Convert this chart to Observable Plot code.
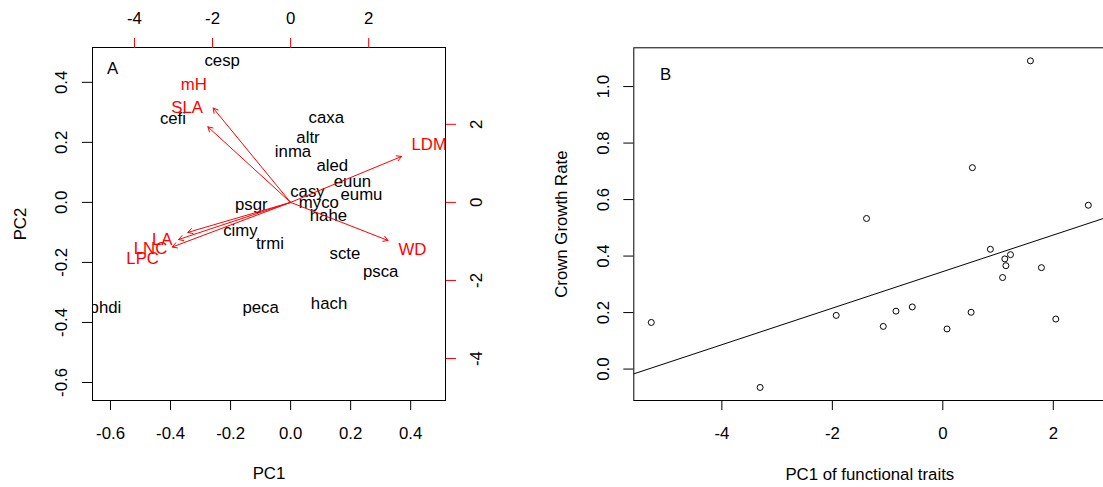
<!DOCTYPE html>
<html><head><meta charset="utf-8">
<script src="https://cdn.jsdelivr.net/npm/d3@7"></script>
<script src="https://cdn.jsdelivr.net/npm/@observablehq/plot@0.6"></script>
<style>
html,body{margin:0;padding:0;background:#fff;overflow:hidden;width:1103px;height:487px;}
#wrap{position:relative;width:1103px;height:487px;overflow:hidden;background:#fff;}
#a{position:absolute;left:0;top:0;width:540px;height:487px;}
#b{position:absolute;left:540px;top:0;width:600px;height:487px;}
</style></head><body><div id="wrap"><div id="a"></div><div id="b"></div></div>
<script>
// ---- Panel A: PCA biplot ----
const species = ["cesp","cefi","caxa","altr","inma","aled","euun","casy","eumu","myco","hahe","psgr","cimy","trmi","scte","psca","hach","peca","phdi"];
const spPC1 = [-0.228,-0.392,0.119,0.058,0.008,0.139,0.206,0.056,0.236,0.094,0.126,-0.131,-0.167,-0.069,0.181,0.300,0.128,-0.100,-0.617];
const spPC2 = [0.472,0.278,0.281,0.217,0.169,0.122,0.070,0.037,0.026,0.000,-0.044,-0.009,-0.094,-0.137,-0.170,-0.231,-0.337,-0.350,-0.350];
const traits = ["mH","SLA","LDM","WD","LA","LNC","LPC"];
const trPC1 = [-2.48,-2.65,3.55,3.12,-3.29,-3.59,-3.79];
const trPC2 = [3.02,2.42,1.47,-1.22,-0.96,-1.19,-1.43];
const biplotLim = [-0.66, 0.516];
const loadScale = 7.69;            // ratio of loading axes to score axes
const ticksA = [-0.6,-0.4,-0.2,0,0.2,0.4];
const loadTicks = [-4,-2,0,2];

// ---- Panel B: crown growth vs PC1 ----
const pc1Traits = [-5.278,-3.308,-1.930,-1.381,-1.078,-0.848,-0.553,0.076,0.512,0.535,0.861,1.082,1.122,1.142,1.225,1.586,1.785,2.045,2.634];
const crownGrowth = [0.165,-0.065,0.190,0.533,0.151,0.205,0.220,0.142,0.201,0.713,0.424,0.324,0.390,0.366,0.405,1.091,0.359,0.177,0.580];
const xTicksB = [-4,-2,0,2];
const yTicksB = [0,0.2,0.4,0.6,0.8,1.0];

const FONT = "'Liberation Sans', Arial, Helvetica, sans-serif";
const style = {fontFamily: FONT, fontSize: "16.8px", background: "white", maxWidth: "none", color: "black"};
const fmt1 = d => d.toFixed(1);
const C = {textAnchor: "middle", lineAnchor: "middle"};

const spRows = species.map((n,i) => ({name:n, pc1:spPC1[i], pc2:spPC2[i]}));
const trRows = traits.map((n,i) => ({name:n, pc1:trPC1[i], pc2:trPC2[i]}));

const plotA = Plot.plot({
  width: 540, height: 487,
  marginLeft: 92, marginRight: 95, marginTop: 47, marginBottom: 87,
  style,
  x: {domain: biplotLim},
  y: {domain: biplotLim},
  marks: [
    Plot.frame({stroke: "black"}),
    Plot.axisX({anchor: "bottom", ticks: ticksA, tickSize: 10, tickPadding: 16.7, tickFormat: fmt1, label: null}),
    Plot.axisY({anchor: "left", ticks: ticksA, tickSize: 10, tickFormat: () => "", label: null}),
    Plot.text(ticksA, {y: d => d, text: fmt1, frameAnchor: "left", dx: -30.5, rotate: -90, ...C}),
    Plot.axisX({anchor: "top", ticks: loadTicks.map(v => v / loadScale), tickSize: 10, tickPadding: 13.5,
      tickFormat: d => String(Math.round(d * loadScale)), stroke: "red", fill: "black", label: null}),
    Plot.axisY({anchor: "right", ticks: loadTicks.map(v => v / loadScale), tickSize: 10,
      tickFormat: () => "", stroke: "red", label: null}),
    Plot.text(loadTicks, {y: d => d / loadScale, text: d => String(d), frameAnchor: "right", dx: 31, rotate: -90, ...C}),
    Plot.text(["PC1"], {text: d => d, frameAnchor: "bottom", dy: 73, ...C}),
    Plot.text(["PC2"], {text: d => d, frameAnchor: "left", dx: -72, rotate: -90, ...C}),
    Plot.text(["A"], {text: d => d, frameAnchor: "top-left", dx: 20, dy: 21, ...C}),
    Plot.text(spRows, {x: "pc1", y: "pc2", text: "name", fill: "black", clip: true}),
    Plot.arrow(trRows, {x1: () => 0, y1: () => 0,
      x2: d => d.pc1 * 0.8 / loadScale, y2: d => d.pc2 * 0.8 / loadScale,
      stroke: "#ff0000", strokeWidth: 1, headLength: 8, clip: true}),
    Plot.text(trRows, {x: d => d.pc1 / loadScale, y: d => d.pc2 / loadScale, text: "name", fill: "#ff0000", clip: true})
  ]
});
document.getElementById("a").append(plotA);

// Panel B domains: data range padded by 4% (R default)
const pad = e => { const r = e[1] - e[0]; return [e[0] - 0.04 * r, e[1] + 0.04 * r]; };
const xDomB = pad(d3.extent(pc1Traits));
const yDomB = pad(d3.extent(crownGrowth));
const ptRows = pc1Traits.map((x,i) => ({x, y: crownGrowth[i]}));
const mx = d3.mean(pc1Traits), my = d3.mean(crownGrowth);
const slope = d3.sum(ptRows, d => (d.x - mx) * (d.y - my)) / d3.sum(ptRows, d => (d.x - mx) ** 2);
const icpt = my - slope * mx;
const fitRows = xDomB.map(x => ({x, y: icpt + slope * x}));

const plotB = Plot.plot({
  width: 600, height: 487,
  marginLeft: 93.3, marginRight: 34.7, marginTop: 47.3, marginBottom: 87,
  style,
  x: {domain: xDomB},
  y: {domain: yDomB},
  marks: [
    Plot.frame({stroke: "black"}),
    Plot.axisX({anchor: "bottom", ticks: xTicksB, tickSize: 10, tickPadding: 16.7, tickFormat: d => String(d), label: null}),
    Plot.axisY({anchor: "left", ticks: yTicksB, tickSize: 10, tickFormat: () => "", label: null}),
    Plot.text(yTicksB, {y: d => d, text: fmt1, frameAnchor: "left", dx: -30, rotate: -90, ...C}),
    Plot.text(["PC1 of functional traits"], {text: d => d, frameAnchor: "bottom", dy: 74, ...C}),
    Plot.text(["Crown Growth Rate"], {text: d => d, frameAnchor: "left", dx: -72.6, rotate: -90, ...C}),
    Plot.text(["B"], {text: d => d, frameAnchor: "top-left", dx: 31.7, dy: 27, ...C}),
    Plot.line(fitRows, {x: "x", y: "y", stroke: "black", strokeWidth: 1, clip: true}),
    Plot.dot(ptRows, {x: "x", y: "y", r: 3, stroke: "black", strokeWidth: 1, fill: "none"})
  ]
});
document.getElementById("b").append(plotB);
</script>
</body></html>
